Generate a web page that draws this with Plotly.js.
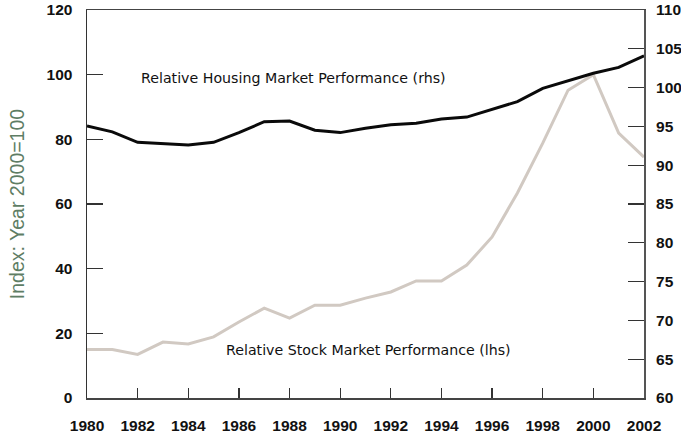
<!DOCTYPE html>
<html>
<head>
<meta charset="utf-8">
<script src="https://cdn.plot.ly/plotly-3.0.1.min.js"></script>
<style>html,body{margin:0;padding:0;background:#fff;}#chart{width:681px;height:437px;}</style>
</head>
<body>
<div id="chart"></div>
<script>
const years = [1980,1981,1982,1983,1984,1985,1986,1987,1988,1989,1990,1991,1992,1993,1994,1995,1996,1997,1998,1999,2000,2001,2002];
const stockLhs = [15,15,13.5,17.3,16.7,18.9,23.5,27.8,24.7,28.7,28.7,30.9,32.8,36.2,36.2,41.1,49.8,63.4,78.8,95.2,100,81.9,74.5];
const housingRhs = [95.05,94.3,92.95,92.8,92.6,92.95,94.2,95.6,95.7,94.5,94.2,94.75,95.2,95.4,95.95,96.2,97.2,98.2,99.9,100.85,101.85,102.6,104.1];
const xTicks = [1980,1982,1984,1986,1988,1990,1992,1994,1996,1998,2000,2002];
const leftTicks = [0,20,40,60,80,100,120];
const rightTicks = [60,65,70,75,80,85,90,95,100,105,110];

const tickFont = {family:'"Liberation Sans", Arial, sans-serif', size:15.5, color:'#111', weight:'bold'};
const noteFont = {family:'"DejaVu Sans", "Liberation Sans", sans-serif', size:14.2, color:'#111'};

const traces = [
  {x: years, y: stockLhs, type:'scatter', mode:'lines', line:{color:'#d1c9c2', width:3}, yaxis:'y', hoverinfo:'skip'},
  {x: years, y: housingRhs, type:'scatter', mode:'lines', line:{color:'#0a0a0a', width:3}, yaxis:'y2', hoverinfo:'skip'}
];

const layout = {
  width:681, height:437,
  margin:{l:87, r:37, t:10, b:39},
  paper_bgcolor:'#fff', plot_bgcolor:'#fff',
  showlegend:false,
  xaxis:{
    range:[1980,2002], tickvals:xTicks, ticktext:xTicks.map(String),
    showgrid:false, zeroline:false, showline:true, mirror:true, linecolor:'#444', linewidth:1.5,
    ticks:'inside', ticklen:10, tickwidth:1.2, tickcolor:'#333',
    tickfont:tickFont, ticklabelstandoff:13
  },
  yaxis:{
    range:[0,120], tickvals:leftTicks, ticktext:leftTicks.map(String),
    showgrid:false, zeroline:false, showline:true, linecolor:'#333', linewidth:1.5,
    ticks:'inside', ticklen:16, tickwidth:1.2, tickcolor:'#333',
    tickfont:tickFont, ticklabelstandoff:10,
    title:{text:'Index: Year 2000=100', font:{family:'"Liberation Sans", Arial, sans-serif', size:19.5, color:'#5e7d64'}, standoff:16}
  },
  yaxis2:{
    range:[60,110], tickvals:rightTicks, ticktext:rightTicks.map(String),
    overlaying:'y', side:'right',
    showgrid:false, zeroline:false, showline:true, linecolor:'#555', linewidth:2,
    ticks:'inside', ticklen:16, tickwidth:1.2, tickcolor:'#333',
    tickfont:tickFont, ticklabelstandoff:7
  },
  annotations:[
    {xref:'paper', yref:'paper', x:(139-87)/557, y:(398-78)/388, xanchor:'left', yanchor:'middle', showarrow:false,
     text:'Relative Housing Market Performance (rhs)', font:noteFont},
    {xref:'paper', yref:'paper', x:(224-87)/557, y:(398-350)/388, xanchor:'left', yanchor:'middle', showarrow:false,
     text:'Relative Stock Market Performance (lhs)', font:noteFont}
  ]
};

Plotly.newPlot('chart', traces, layout, {displayModeBar:false, staticPlot:true});
</script>
</body>
</html>
